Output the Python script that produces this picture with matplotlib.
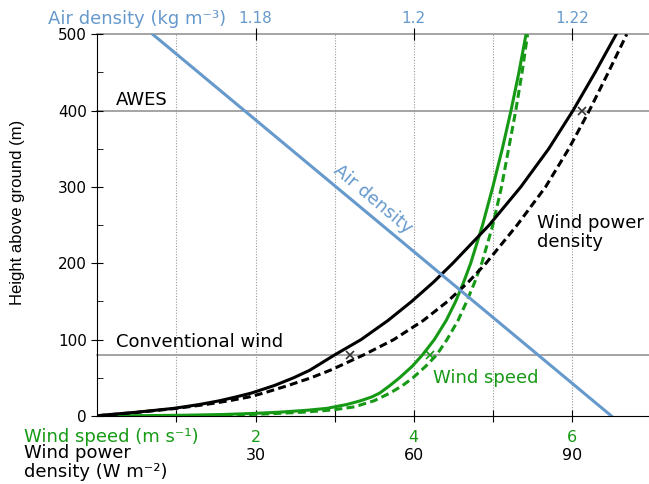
import matplotlib.pyplot as plt

# values
# wind speed (m/s) vs height, log profile (solid) and power law (dashed)
h_log = [0.2, 0.5, 1, 2, 3.5, 5, 7.5, 10, 15, 20, 25, 30, 40, 50, 65, 80, 100,
         125, 150, 175, 200, 250, 300, 350, 400, 450, 500]
speed_log = [0.05, 0.6, 1.1, 1.6, 2.0, 2.3, 2.65, 2.9, 3.15, 3.33, 3.47, 3.57,
             3.7, 3.82, 3.98, 4.11, 4.26, 4.41, 4.53, 4.63, 4.72, 4.87, 5.0,
             5.12, 5.23, 5.33, 5.42]
h_pow = [0, 0.5, 1, 2, 3, 5, 8, 12, 20, 30, 40, 50, 65, 80, 100, 125, 150, 175,
         200, 250, 300, 350, 400, 450, 500]
speed_pow = [1.3, 1.6, 1.8, 1.95, 2.2, 2.6, 2.98, 3.25, 3.5, 3.7, 3.86, 3.99,
             4.15, 4.29, 4.42, 4.56, 4.67, 4.77, 4.86, 5.0, 5.11, 5.2, 5.29,
             5.37, 5.44]

# wind power density (W/m2) vs height
h_wpd = [0, 1, 2, 5, 10, 15, 20, 25, 30, 40, 50, 60, 80, 100, 125, 150, 175,
         200, 250, 300, 350, 400, 450, 500]
wpd_log = [0, 0.8, 2.5, 7.5, 14.5, 19.3, 23.2, 26.3, 29.2, 33.6, 37.2, 40.3,
           45.0, 50.0, 55.1, 59.6, 63.7, 67.4, 74.3, 80.3, 85.6, 90.2, 94.4,
           98.4]
wpd_pow = [0, 1.2, 3, 8, 15, 20.5, 25, 28.8, 31.5, 36.2, 40.5, 44.2, 50.5,
           56.2, 61.8, 66.4, 70.3, 73.7, 79.6, 85.0, 89.4, 93.3, 96.9, 100.4]

# air density (kg/m3) vs height
h_rho = [0, 250, 500]
rho = [1.225, 1.196, 1.167]

# hub heights
mark_wpd = [48, 92]
mark_wpd_h = [80, 400]
mark_speed = [4.21]
mark_speed_h = [80]

GREEN = '#169a16'
BLUE = '#6699cc'
GRAY = '#8c8c8c'
U_MAX = 6.975
DASH = (0, (2.6, 1.4))

fig = plt.figure(figsize=(6.49, 4.84), dpi=100)
ax = fig.add_axes([0.15, 0.1405, 0.85, 0.7886])
ax.set_xlim(0, U_MAX)
ax.set_ylim(0, 500)
ax.spines['top'].set_visible(False)
ax.spines['right'].set_visible(False)

ax.set_xticks([1, 2, 3, 4, 5, 6])
ax.set_xticklabels(['', '2', '', '4', '', '6'])
ax.tick_params(axis='x', direction='inout', length=8, pad=6, labelsize=11.5,
               labelcolor=GREEN)
ax.grid(axis='x', linestyle=(0, (1, 1.5)), color='#999999', lw=0.8)
ax.set_yticks(range(0, 501, 100))
ax.set_yticks(range(50, 500, 100), minor=True)
ax.tick_params(axis='y', which='major', direction='inout', length=8, labelsize=11)
ax.tick_params(axis='y', which='minor', direction='in', length=4)

for y in [80, 400, 500]:
    ax.axhline(y, color=GRAY, lw=1.1, clip_on=False, zorder=1)

ax.plot(speed_log, h_log, color=GREEN, lw=2.2, zorder=3)
ax.plot(speed_pow, h_pow, color=GREEN, lw=2.2, ls=DASH, zorder=3)
ax.plot(mark_speed, mark_speed_h, 'x', color=GREEN, ms=6, mew=1.2, zorder=4)

# wind power density axis (second row of bottom labels)
ax_w = ax.twiny()
ax_w.set_xlim(0, 15 * U_MAX)
ax_w.xaxis.set_ticks_position('bottom')
ax_w.set_xticks([30, 60, 90])
ax_w.tick_params(axis='x', length=0, pad=23, labelsize=11.5)
for s in ax_w.spines.values():
    s.set_visible(False)
ax_w.plot(wpd_log, h_wpd, color='black', lw=2.2)
ax_w.plot(wpd_pow, h_wpd, color='black', lw=2.2, ls=DASH)
ax_w.plot(mark_wpd, mark_wpd_h, 'x', color='#333333', ms=6, mew=1.2)

# air density axis on top
ax_a = ax.twiny()
ax_a.set_xlim(1.16, 1.16 + 0.01 * U_MAX)
ax_a.set_xticks([1.18, 1.2, 1.22])
ax_a.set_xticklabels(['1.18', '1.2', '1.22'])
ax_a.tick_params(axis='x', direction='inout', length=8, pad=2, labelsize=11,
                 labelcolor=BLUE)
for s in ax_a.spines.values():
    s.set_visible(False)
ax_a.plot(rho, h_rho, color=BLUE, lw=2.2)

ax.text(0.24, 414, 'AWES', fontsize=13, va='center')
ax.text(0.24, 97, 'Conventional wind', fontsize=13, va='center')
ax.text(5.555, 240, 'Wind power\ndensity', fontsize=13, va='center',
        linespacing=1.1)
ax.text(4.24, 50, 'Wind speed', color=GREEN, fontsize=13, va='center')
ax.text(3.48, 284, 'Air density', color=BLUE, fontsize=13, rotation=-40,
        rotation_mode='anchor', ha='center', va='center')

fig.text(0.074, 0.9514, 'Air density (kg m⁻³)', color=BLUE, fontsize=13,
         va='baseline')
fig.text(0.037, 0.0874, 'Wind speed (m s⁻¹)', color=GREEN, fontsize=13,
         va='baseline')
fig.text(0.037, 0.0531, 'Wind power', fontsize=13, va='baseline')
fig.text(0.037, 0.0151, 'density (W m⁻²)', fontsize=13, va='baseline')
fig.text(18 / 649, 1 - 212 / 484, 'Height above ground (m)', rotation=90,
         ha='center', va='center', fontsize=12,
         family=['Liberation Sans', 'DejaVu Sans'])

fig.savefig('out.png', dpi=100)
